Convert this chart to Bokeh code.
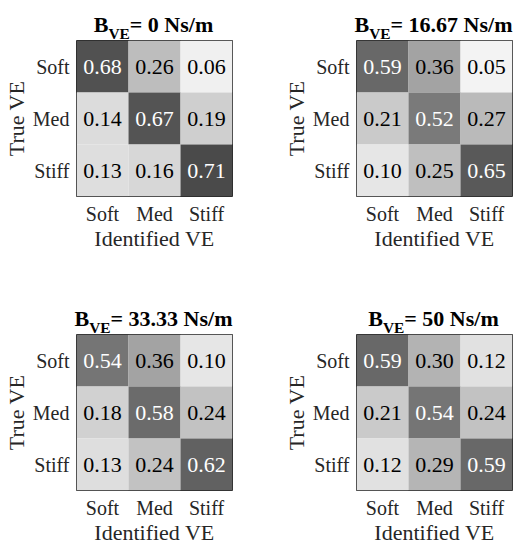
from bokeh.plotting import figure
from bokeh.models import FactorRange, ColumnDataSource, LinearColorMapper, Range1d
from bokeh.layouts import row, column
from bokeh.core.properties import value
from bokeh.embed import file_html
from bokeh.resources import INLINE

# Stiffness classes (true on the y axis, identified on the x axis)
classes = ["Soft", "Med", "Stiff"]

# Virtual-environment damping for each panel (Ns/m)
damping = ["0", "16.67", "33.33", "50"]

# Confusion matrices, rows = true class, columns = identified class
cm_b0 = [[0.68, 0.26, 0.06],
         [0.14, 0.67, 0.19],
         [0.13, 0.16, 0.71]]
cm_b1 = [[0.59, 0.36, 0.05],
         [0.21, 0.52, 0.27],
         [0.10, 0.25, 0.65]]
cm_b2 = [[0.54, 0.36, 0.10],
         [0.18, 0.58, 0.24],
         [0.13, 0.24, 0.62]]
cm_b3 = [[0.59, 0.30, 0.12],
         [0.21, 0.54, 0.24],
         [0.12, 0.29, 0.59]]
matrices = [cm_b0, cm_b1, cm_b2, cm_b3]

FONT = "Liberation Serif"
INK = "#262626"
PANEL_W = 257
FRAME = 156
TITLE_H = 40

# linear gray ramp: 0 -> white, 1 -> black
grays = ["#%02x%02x%02x" % (g, g, g) for g in range(255, -1, -1)]
mapper = LinearColorMapper(palette=grays, low=0, high=1)

# approximate advance widths (em) of the bold serif face, for laying out the title
BOLD_W = {"B": 0.667, "V": 0.722, "E": 0.667, "=": 0.570, " ": 0.25,
          ".": 0.25, "N": 0.722, "s": 0.389, "/": 0.278, "m": 0.833}
for d in "0123456789":
    BOLD_W[d] = 0.5


def text_width(s, size):
    return sum(BOLD_W.get(ch, 0.5) for ch in s) * size


def title_strip(b, frame_left):
    """Bold title 'B_VE= <b> Ns/m' centred over the panel frame."""
    t = figure(width=PANEL_W, height=TITLE_H,
               x_range=Range1d(0, PANEL_W), y_range=Range1d(TITLE_H, 0),
               min_border=0, x_axis_location=None, y_axis_location=None,
               output_backend="svg", toolbar_location=None)
    t.grid.visible = False
    t.outline_line_color = None
    t.background_fill_color = "#ffffff"
    t.border_fill_color = "#ffffff"

    main, sub = 22, 15.4
    rest = f"= {b} Ns/m"
    w_b = text_width("B", main)
    w_sub = text_width("VE", sub)
    total = w_b + w_sub + text_width(rest, main)
    x0 = frame_left + FRAME / 2 - total / 2
    style = dict(text_font=value(FONT), text_font_style="bold", text_color="#000000",
                 text_align="left", text_baseline="alphabetic")
    t.text(x=[x0], y=[24], text=["B"], text_font_size=value(f"{main}px"), **style)
    t.text(x=[x0 + w_b], y=[33], text=["VE"], text_font_size=value(f"{sub}px"), **style)
    t.text(x=[x0 + w_b + w_sub], y=[24], text=[rest], text_font_size=value(f"{main}px"), **style)
    return t


def panel(mat, left, right, bottom):
    p = figure(x_range=FactorRange(*classes), y_range=FactorRange(*classes[::-1]),
               frame_width=FRAME, frame_height=FRAME,
               min_border_left=left, min_border_right=right,
               min_border_top=0, min_border_bottom=bottom,
               x_axis_label="Identified VE", y_axis_label="True VE",
               output_backend="svg", toolbar_location=None)

    cols, rows, vals, txt, tcol = [], [], [], [], []
    for i, r in enumerate(classes):
        for j, c in enumerate(classes):
            v = mat[i][j]
            cols.append(c)
            rows.append(r)
            vals.append(v)
            txt.append(f"{v:.2f}")
            tcol.append("#ffffff" if v > 0.5 else "#000000")
    src = ColumnDataSource(dict(col=cols, row=rows, val=vals, txt=txt, tcol=tcol))

    p.rect(x="col", y="row", width=1, height=1, source=src,
           fill_color={"field": "val", "transform": mapper}, line_color=None)
    p.text(x="col", y="row", text="txt", source=src, text_color="tcol",
           text_align="center", text_baseline="middle",
           text_font=value(FONT), text_font_size=value("22px"))

    p.grid.visible = False
    p.axis.axis_line_color = None
    p.axis.major_tick_line_color = None
    p.axis.minor_tick_line_color = None
    p.axis.major_tick_out = 0
    p.axis.major_tick_in = 0
    p.axis.major_label_text_font = FONT
    p.axis.major_label_text_font_size = "20px"
    p.axis.major_label_text_color = INK
    p.axis.axis_label_text_font = FONT
    p.axis.axis_label_text_font_size = "22px"
    p.axis.axis_label_text_font_style = "normal"
    p.axis.axis_label_text_color = INK
    p.xaxis.major_label_standoff = 6
    p.yaxis.major_label_standoff = 7
    p.xaxis.axis_label_standoff = -2
    p.yaxis.axis_label_standoff = 1

    p.outline_line_color = INK
    p.outline_line_width = 1
    p.background_fill_color = "#ffffff"
    p.border_fill_color = "#ffffff"
    return p


t1, p1 = title_strip(damping[0], 75), panel(matrices[0], 75, 26, 98)
t2, p2 = title_strip(damping[1], 98), panel(matrices[1], 98, 3, 98)
t3, p3 = title_strip(damping[2], 75), panel(matrices[2], 75, 26, 57)
t4, p4 = title_strip(damping[3], 98), panel(matrices[3], 98, 3, 57)

layout = column(row(t1, t2), row(p1, p2), row(t3, t4), row(p3, p4))

with open("out.html", "w") as f:
    f.write(file_html(layout, INLINE))
